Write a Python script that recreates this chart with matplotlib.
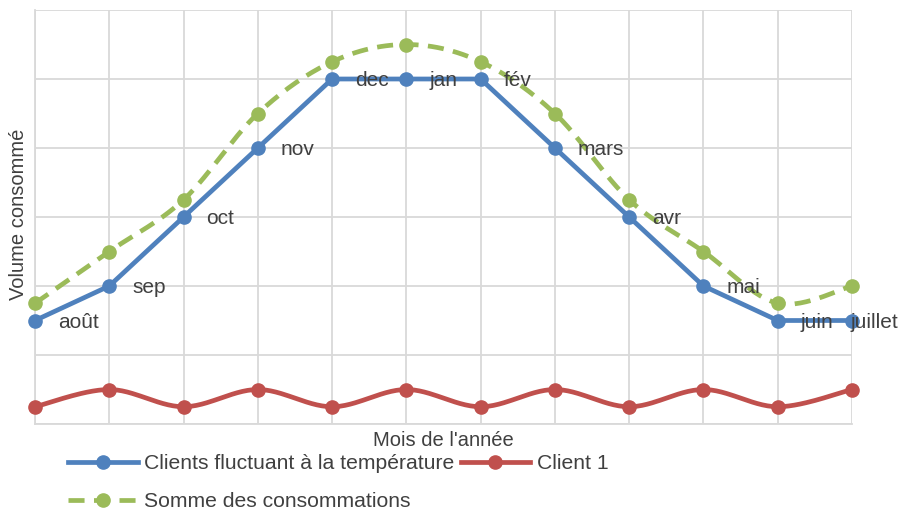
import numpy as np
import matplotlib.pyplot as plt

mois = ['août', 'sep', 'oct', 'nov', 'dec', 'jan', 'fév', 'mars', 'avr', 'mai', 'juin', 'juillet']
fluctuant = [1.5, 2, 3, 4, 5, 5, 5, 4, 3, 2, 1.5, 1.5]
client1 = [0.25, 0.5, 0.25, 0.5, 0.25, 0.5, 0.25, 0.5, 0.25, 0.5, 0.25, 0.5]
somme = [1.75, 2.5, 3.25, 4.5, 5.25, 5.5, 5.25, 4.5, 3.25, 2.5, 1.75, 2.0]

BLEU = '#4f81bd'
ROUGE = '#c0504d'
VERT = '#9bbb59'
GRIS = '#404040'

plt.rcParams['font.family'] = ['Liberation Sans', 'DejaVu Sans']


def lisser(y, n=30):
    # courbe lissée façon Excel (Bezier / Catmull-Rom)
    x = np.arange(len(y), dtype=float)
    y = np.asarray(y, dtype=float)
    xs, ys = [], []
    for i in range(len(y) - 1):
        p0 = np.array([x[max(i - 1, 0)], y[max(i - 1, 0)]])
        p1 = np.array([x[i], y[i]])
        p2 = np.array([x[i + 1], y[i + 1]])
        p3 = np.array([x[min(i + 2, len(y) - 1)], y[min(i + 2, len(y) - 1)]])
        c1 = p1 + (p2 - p0) / 6
        c2 = p2 - (p3 - p1) / 6
        t = np.linspace(0, 1, n)[:, None]
        pts = ((1 - t) ** 3) * p1 + 3 * ((1 - t) ** 2) * t * c1 + 3 * (1 - t) * t ** 2 * c2 + t ** 3 * p2
        xs.extend(pts[:, 0])
        ys.extend(pts[:, 1])
    return np.array(xs), np.array(ys)


fig = plt.figure(figsize=(9.01, 5.14), dpi=100)
ax = fig.add_axes([35 / 901, 1 - 424 / 514, (852 - 35) / 901, (424 - 10) / 514])

x = np.arange(len(mois))
lw = 3.4
ms = 9.5
tirets = (3.4, 2.0)

# Somme (vert pointillé, lissé)
sx, sy = lisser(somme)
ax.plot(sx, sy, color=VERT, lw=lw, dashes=tirets, zorder=3, clip_on=False)
ax.plot(x, somme, 'o', color=VERT, ms=ms, zorder=3, clip_on=False)

# Client 1 (rouge, lissé)
rx, ry = lisser(client1)
ax.plot(rx, ry, color=ROUGE, lw=lw, zorder=4, clip_on=False)
ax.plot(x, client1, 'o', color=ROUGE, ms=ms, zorder=4, clip_on=False)

# Clients fluctuants (bleu)
ax.plot(x, fluctuant, '-o', color=BLEU, lw=lw, ms=ms, zorder=5, clip_on=False)

for i, m in enumerate(mois):
    if i == len(mois) - 1:
        # dernière étiquette repoussée à l'intérieur du graphique
        ax.annotate(m, (x[i], fluctuant[i]), xytext=(33, -1.2), textcoords='offset points',
                    ha='right', va='center', fontsize=15, color=GRIS, zorder=6)
    else:
        ax.annotate(m, (x[i], fluctuant[i]), xytext=(16.5, -1.2), textcoords='offset points',
                    ha='left', va='center', fontsize=15, color=GRIS, zorder=6)

ax.set_xlim(0, 11)
ax.set_ylim(0, 6)
ax.set_xticks(x)
ax.set_yticks(np.arange(0, 7))
ax.set_xticklabels([])
ax.set_yticklabels([])
ax.tick_params(length=0)
ax.grid(True, color='#d9d9d9', lw=1.3)
for s in ax.spines.values():
    s.set_visible(False)
for cote in ['left', 'bottom']:
    ax.spines[cote].set_visible(True)
    ax.spines[cote].set_color('#d9d9d9')
    ax.spines[cote].set_linewidth(1.3)
ax.set_axisbelow(True)

fig.text(443 / 901, 1 - 440 / 514, "Mois de l'année", ha='center', va='center', fontsize=14.5, color=GRIS)
fig.text(19 / 901, 1 - 214 / 514, 'Volume consommé', ha='center', va='center', rotation=90,
         fontsize=14.5, color=GRIS)

h_bleu = plt.Line2D([], [], color=BLEU, lw=lw, marker='o', ms=ms)
h_rouge = plt.Line2D([], [], color=ROUGE, lw=lw, marker='o', ms=ms)
h_vert = plt.Line2D([], [], color=VERT, lw=lw, marker='o', ms=ms, dashes=tirets)
leg = fig.legend([h_bleu, h_vert, h_rouge],
                 ['Clients fluctuant à la température', 'Somme des consommations', 'Client 1'],
                 ncol=2, loc='upper left', bbox_to_anchor=(68 / 901, 1 - 454 / 514),
                 frameon=False, fontsize=15.2, handlelength=3.3, handletextpad=0.3,
                 columnspacing=0.3, labelspacing=0.9, borderpad=0, borderaxespad=0)
for t in leg.get_texts():
    t.set_color(GRIS)

fig.savefig('out.png', dpi=100)
